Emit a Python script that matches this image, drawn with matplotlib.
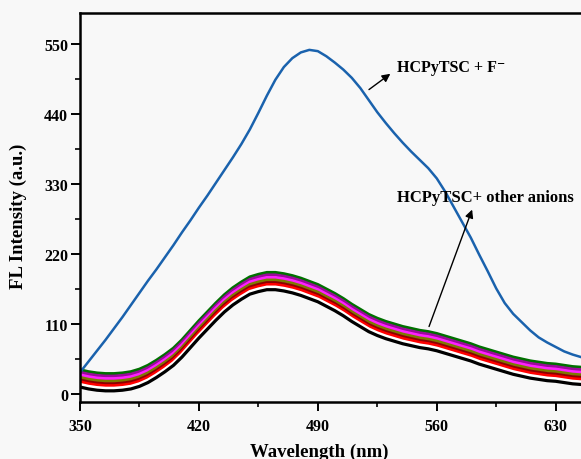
import matplotlib

matplotlib.use("Agg")
import matplotlib.pyplot as plt

plt.rcParams["font.family"] = ["Liberation Serif", "DejaVu Serif"]
plt.rcParams["font.weight"] = "bold"

# Emission spectra, sampled every 5 nm
wavelength = list(range(350, 651, 5))

fluoride = [34, 51, 68, 85, 103, 121, 140, 159, 178, 196,
            215, 234, 254, 273, 293, 312, 332, 352, 372, 393,
            416, 442, 469, 494, 514, 528, 537, 541, 539, 531,
            521, 510, 497, 481, 462, 443, 426, 410, 395, 381,
            368, 355, 339, 318, 294, 270, 246, 219, 193, 166,
            143, 126, 113, 100, 89, 81, 74, 67, 62, 58,
            54]

# HCPyTSC with the other anions (bottom to top of the bundle)
anion_black = [11, 8, 6, 5, 5, 6, 8, 12, 18, 26,
               35, 45, 58, 73, 88, 102, 116, 129, 140, 149,
               157, 161, 164, 164, 162, 159, 155, 150, 145, 138,
               131, 123, 114, 106, 98, 92, 87, 83, 79, 76,
               73, 71, 68, 64, 60, 56, 52, 47, 43, 39,
               35, 31, 28, 25, 23, 21, 20, 18, 16, 15,
               14]
anion_white = [15, 12, 10, 9, 9, 10, 12, 16, 22, 30,
               39, 49, 62, 77, 92, 106, 120, 133, 144, 153,
               161, 165, 168, 168, 166, 163, 159, 154, 149, 142,
               135, 127, 118, 110, 102, 96, 91, 87, 83, 80,
               77, 75, 72, 68, 64, 60, 56, 51, 47, 43,
               39, 35, 32, 29, 27, 25, 24, 22, 20, 19,
               18]
anion_red = [19, 16, 14, 13, 13, 14, 16, 20, 26, 34,
             43, 53, 66, 81, 96, 110, 124, 137, 148, 157,
             165, 169, 172, 172, 170, 167, 163, 158, 153, 146,
             139, 131, 122, 114, 106, 100, 95, 91, 87, 84,
             81, 79, 76, 72, 68, 64, 60, 55, 51, 47,
             43, 39, 36, 33, 31, 29, 28, 26, 24, 23,
             22]
anion_maroon = [22, 19, 17, 16, 16, 17, 19, 23, 29, 37,
                46, 56, 69, 84, 99, 113, 127, 140, 151, 160,
                168, 172, 175, 175, 173, 170, 166, 161, 156, 149,
                142, 134, 125, 117, 109, 103, 98, 94, 90, 87,
                84, 82, 79, 75, 71, 67, 63, 58, 54, 50,
                46, 42, 39, 36, 34, 32, 31, 29, 27, 26,
                25]
anion_olive = [26, 23, 21, 20, 20, 21, 23, 27, 33, 41,
               50, 60, 73, 88, 103, 117, 131, 144, 155, 164,
               172, 176, 179, 179, 177, 174, 170, 165, 160, 153,
               146, 138, 129, 121, 113, 107, 102, 98, 94, 91,
               88, 86, 83, 79, 75, 71, 67, 62, 58, 54,
               50, 46, 43, 40, 38, 36, 35, 33, 31, 30,
               29]
anion_magenta = [30, 27, 25, 24, 24, 25, 27, 31, 37, 45,
                 54, 64, 77, 92, 107, 121, 135, 148, 159, 168,
                 176, 180, 183, 183, 181, 178, 174, 169, 164, 157,
                 150, 142, 133, 125, 117, 111, 106, 102, 98, 95,
                 92, 90, 87, 83, 79, 75, 71, 66, 62, 58,
                 54, 50, 47, 44, 42, 40, 39, 37, 35, 34,
                 33]
anion_purple = [34, 31, 29, 28, 28, 29, 31, 35, 41, 49,
                58, 68, 81, 96, 111, 125, 139, 152, 163, 172,
                180, 184, 187, 187, 185, 182, 178, 173, 168, 161,
                154, 146, 137, 129, 121, 115, 110, 106, 102, 99,
                96, 94, 91, 87, 83, 79, 75, 70, 66, 62,
                58, 54, 51, 48, 46, 44, 43, 41, 39, 38,
                37]
anion_green = [38, 35, 33, 32, 32, 33, 35, 39, 45, 53,
               62, 72, 85, 100, 115, 129, 143, 156, 167, 176,
               184, 188, 191, 191, 189, 186, 182, 177, 172, 165,
               158, 150, 141, 133, 125, 119, 114, 110, 106, 103,
               100, 98, 95, 91, 87, 83, 79, 74, 70, 66,
               62, 58, 55, 52, 50, 48, 47, 45, 43, 42,
               41]

anion_series = [
    (anion_green, "#007000"),
    (anion_purple, "#9a0a9a"),
    (anion_magenta, "#ff20ff"),
    (anion_olive, "#7d7a00"),
    (anion_maroon, "#8b0000"),
    (anion_red, "#ff0000"),
    (anion_white, "#ffffff"),
    (anion_black, "#000000"),
]

x_ticks = [350, 420, 490, 560, 630]
y_ticks = [0, 110, 220, 330, 440, 550]

fig = plt.figure(figsize=(5.81, 4.60), dpi=100, facecolor="#f8f8f8")
ax = fig.add_axes([0.1377, 0.1233, 0.9064, 0.8463])
ax.set_facecolor("#f8f8f8")

for values, color in anion_series:
    ax.plot(wavelength, values, color=color, lw=2.3, solid_capstyle="butt")
ax.plot(wavelength, fluoride, color="#1a62ad", lw=1.8)

ax.set_xlim(350, 660)
ax.set_ylim(-13, 599)
ax.set_xticks(x_ticks)
ax.set_yticks(y_ticks)
ax.set_xticks([385, 455, 525, 595], minor=True)
ax.set_yticks([55, 165, 275, 385, 495], minor=True)
ax.tick_params(which="major", direction="out", length=6.5, width=1.4,
               labelsize=11.5, pad=5)
ax.tick_params(which="minor", direction="out", length=3.6, width=1.2)
ax.tick_params(axis="y", pad=2)
for lab in ax.get_xticklabels() + ax.get_yticklabels():
    lab.set_fontweight("bold")
for side in ["left", "bottom", "top", "right"]:
    ax.spines[side].set_linewidth(1.8)

ax.set_xlabel("Wavelength (nm)", fontsize=13.5, fontweight="bold")
ax.set_ylabel("FL Intensity (a.u.)", fontsize=13.5, fontweight="bold")
ax.xaxis.set_label_coords(0.454, -0.103)
ax.yaxis.set_label_coords(-0.10, 0.48)

arrow = dict(arrowstyle="-|>", color="black", lw=1.0, mutation_scale=12)
ax.text(536.5, 514, "HCPyTSC + F\u207b", fontsize=11.5, fontweight="bold",
        va="center", ha="left")
ax.annotate("", xy=(534, 506), xytext=(518.8, 476), arrowprops=arrow)
ax.text(536.5, 310, "HCPyTSC+ other anions", fontsize=12, fontweight="bold",
        va="center", ha="left")
ax.annotate("", xy=(581.4, 294), xytext=(554.9, 102), arrowprops=arrow)

fig.savefig("out.png", dpi=100, facecolor=fig.get_facecolor())
